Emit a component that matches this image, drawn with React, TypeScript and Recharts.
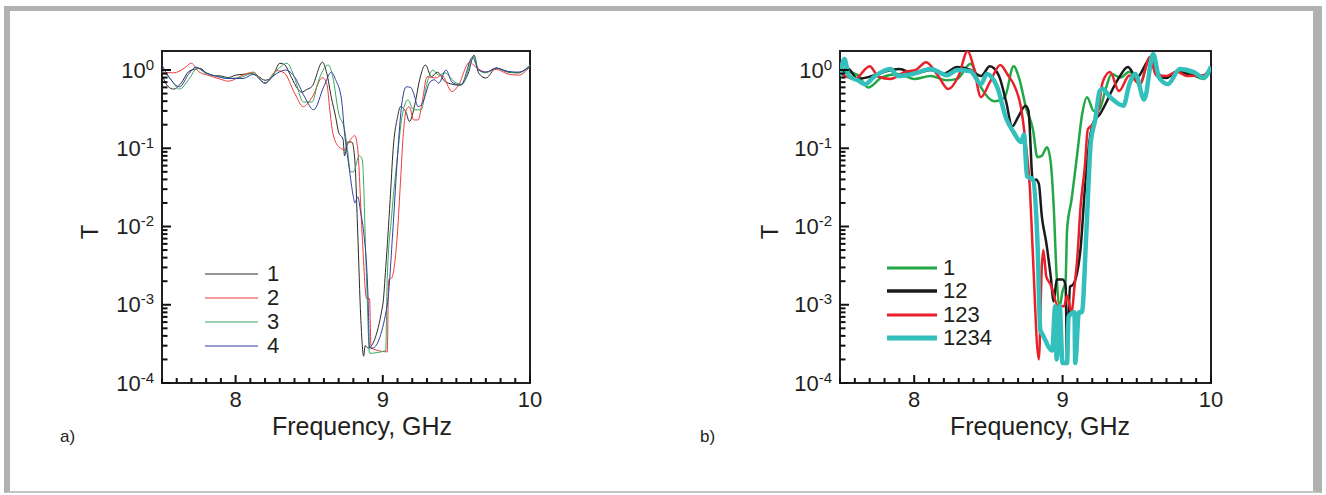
import React from 'react';
import { LineChart, Line, XAxis, YAxis, ReferenceArea, ReferenceDot } from 'recharts';

// ---- panel a) data (T vs frequency, GHz) ----
const fA1 = [7.5, 7.54, 7.58, 7.63, 7.68, 7.72, 7.76, 7.8, 7.85, 7.9, 7.95, 8.0, 8.05, 8.1, 8.15, 8.2, 8.25, 8.3, 8.33, 8.38, 8.42, 8.45, 8.48, 8.52, 8.59, 8.62, 8.65, 8.68, 8.7, 8.73, 8.74, 8.76, 8.79, 8.81, 8.83, 8.85, 8.87, 8.88, 8.9, 9.0, 9.02, 9.05, 9.07, 9.1, 9.12, 9.16, 9.18, 9.22, 9.25, 9.29, 9.33, 9.37, 9.42, 9.47, 9.52, 9.58, 9.62, 9.65, 9.7, 9.77, 9.85, 9.92, 10.0];
const tA1 = [0.86, 0.62, 0.57, 0.68, 0.95, 1.02, 1.05, 0.92, 0.85, 0.84, 0.8, 0.86, 0.88, 0.9, 0.84, 0.74, 0.82, 1.22, 1.18, 0.8, 0.58, 0.52, 0.56, 0.62, 1.26, 0.9, 0.45, 0.25, 0.16, 0.13, 0.08, 0.12, 0.12, 0.07, 0.008, 0.0007, 0.00022, 0.0003, 0.00028, 0.001, 0.003, 0.022, 0.096, 0.25, 0.34, 0.28, 0.22, 0.38, 0.75, 1.16, 0.82, 0.94, 0.72, 0.66, 0.64, 0.9, 1.55, 0.92, 0.79, 1.06, 0.94, 0.92, 1.16];

const fA2 = [7.5, 7.58, 7.65, 7.7, 7.75, 7.82, 7.9, 7.95, 8.05, 8.12, 8.2, 8.28, 8.33, 8.4, 8.46, 8.52, 8.59, 8.62, 8.64, 8.66, 8.7, 8.74, 8.77, 8.81, 8.83, 8.86, 8.89, 8.91, 8.92, 9.03, 9.04, 9.06, 9.1, 9.12, 9.14, 9.16, 9.18, 9.21, 9.24, 9.27, 9.3, 9.36, 9.4, 9.47, 9.51, 9.59, 9.63, 9.7, 9.77, 9.85, 9.92, 10.0];
const tA2 = [0.94, 0.92, 1.05, 1.22, 0.95, 0.85, 0.76, 0.72, 0.86, 0.94, 0.68, 0.98, 0.92, 0.51, 0.34, 0.45, 0.8, 0.66, 0.31, 0.158, 0.105, 0.096, 0.12, 0.145, 0.096, 0.0076, 0.0012, 0.0012, 0.00028, 0.00025, 0.0021, 0.0022, 0.0085, 0.037, 0.158, 0.31, 0.34, 0.23, 0.23, 0.415, 0.82, 0.79, 0.86, 0.53, 0.62, 1.26, 1.1, 0.94, 1.02, 0.89, 0.86, 1.1];

const fA3 = [7.5, 7.55, 7.62, 7.68, 7.74, 7.8, 7.87, 7.95, 8.03, 8.12, 8.2, 8.27, 8.35, 8.4, 8.46, 8.52, 8.56, 8.63, 8.66, 8.7, 8.74, 8.76, 8.78, 8.8, 8.84, 8.86, 8.89, 8.91, 9.02, 9.03, 9.06, 9.1, 9.13, 9.17, 9.21, 9.26, 9.3, 9.34, 9.38, 9.42, 9.5, 9.54, 9.62, 9.65, 9.7, 9.77, 9.85, 9.92, 10.0];
const tA3 = [0.98, 0.8, 0.57, 0.75, 1.05, 0.9, 0.84, 0.78, 0.8, 0.92, 0.68, 0.95, 1.22, 0.8, 0.39, 0.39, 0.7, 1.16, 0.82, 0.28, 0.173, 0.096, 0.05, 0.05, 0.08, 0.072, 0.002, 0.00024, 0.00026, 0.0021, 0.0136, 0.08, 0.25, 0.415, 0.31, 0.31, 0.68, 1.0, 0.86, 0.92, 0.68, 0.66, 1.5, 1.0, 0.92, 1.06, 0.95, 0.92, 1.16];

const fA4 = [7.5, 7.55, 7.62, 7.68, 7.73, 7.8, 7.88, 7.95, 8.05, 8.12, 8.2, 8.26, 8.34, 8.4, 8.47, 8.53, 8.6, 8.65, 8.68, 8.72, 8.74, 8.77, 8.8, 8.81, 8.83, 8.85, 8.87, 8.9, 8.91, 8.93, 9.03, 9.07, 9.1, 9.13, 9.16, 9.19, 9.21, 9.24, 9.27, 9.32, 9.35, 9.38, 9.43, 9.47, 9.53, 9.61, 9.65, 9.7, 9.77, 9.85, 9.92, 10.0];
const tA4 = [1.16, 0.8, 0.61, 0.88, 1.09, 0.92, 0.82, 0.78, 0.78, 0.88, 0.68, 0.85, 1.0, 0.82, 0.45, 0.31, 0.62, 0.94, 0.75, 0.415, 0.158, 0.059, 0.024, 0.02, 0.024, 0.015, 0.0085, 0.0012, 0.00028, 0.00028, 0.00099, 0.01, 0.08, 0.38, 0.61, 0.6, 0.5, 0.34, 0.38, 0.7, 0.75, 0.68, 1.0, 0.7, 0.64, 1.46, 1.0, 0.94, 1.06, 0.96, 0.94, 1.1];

// ---- panel b) data ----
const fB1 = [7.5, 7.55, 7.62, 7.69, 7.78, 7.89, 8.0, 8.11, 8.22, 8.29, 8.38, 8.45, 8.54, 8.61, 8.67, 8.71, 8.755, 8.8, 8.83, 8.86, 8.895, 8.92, 8.94, 8.96, 8.98, 9.0, 9.02, 9.03, 9.06, 9.1, 9.13, 9.165, 9.21, 9.25, 9.29, 9.33, 9.39, 9.45, 9.52, 9.59, 9.63, 9.7, 9.77, 9.86, 9.95, 10.0];
const tB1 = [0.89, 0.95, 0.86, 0.6, 0.8, 0.89, 0.77, 0.84, 0.74, 0.77, 1.2, 0.6, 0.4, 0.45, 1.12, 0.75, 0.32, 0.175, 0.077, 0.08, 0.103, 0.066, 0.018, 0.0023, 0.00096, 0.0015, 0.002, 0.009, 0.022, 0.089, 0.26, 0.45, 0.3, 0.32, 0.57, 0.89, 0.8, 0.95, 0.66, 1.47, 0.96, 0.8, 0.96, 0.9, 0.77, 1.1];

const fB2 = [7.5, 7.55, 7.62, 7.7, 7.8, 7.9, 8.0, 8.11, 8.2, 8.29, 8.38, 8.45, 8.51, 8.57, 8.62, 8.66, 8.7, 8.75, 8.77, 8.8, 8.82, 8.84, 8.86, 8.89, 8.92, 8.94, 8.96, 9.0, 9.02, 9.03, 9.05, 9.07, 9.12, 9.15, 9.18, 9.21, 9.25, 9.29, 9.32, 9.38, 9.44, 9.5, 9.59, 9.63, 9.7, 9.77, 9.86, 9.95, 10.0];
const tB2 = [0.89, 1.05, 0.77, 0.82, 0.95, 1.03, 0.9, 1.0, 0.9, 1.09, 1.0, 0.84, 1.12, 0.85, 0.39, 0.19, 0.25, 0.35, 0.3, 0.037, 0.04, 0.035, 0.0135, 0.0062, 0.0023, 0.0011, 0.0021, 0.0021, 0.0018, 0.0002, 0.0017, 0.0018, 0.005, 0.03, 0.12, 0.22, 0.27, 0.37, 0.49, 0.8, 1.09, 0.8, 1.38, 0.9, 0.79, 0.96, 0.86, 0.82, 1.1];

const fB3 = [7.5, 7.6, 7.7, 7.76, 7.84, 7.94, 8.01, 8.08, 8.16, 8.23, 8.3, 8.36, 8.4, 8.45, 8.51, 8.58, 8.63, 8.68, 8.72, 8.75, 8.78, 8.8, 8.84, 8.86, 8.87, 8.89, 8.92, 8.97, 9.01, 9.03, 9.06, 9.08, 9.1, 9.12, 9.15, 9.17, 9.2, 9.24, 9.27, 9.32, 9.38, 9.45, 9.52, 9.59, 9.63, 9.7, 9.77, 9.84, 9.95, 10.0];
const tB3 = [0.89, 0.77, 1.12, 0.82, 0.77, 0.95, 1.0, 1.26, 0.85, 0.57, 0.85, 1.75, 1.1, 0.45, 0.7, 1.16, 0.87, 0.6, 0.33, 0.12, 0.03, 0.0042, 0.0002, 0.0031, 0.005, 0.0023, 0.0018, 0.00096, 0.00096, 0.0013, 0.0008, 0.0017, 0.0042, 0.017, 0.059, 0.175, 0.2, 0.3, 0.7, 0.94, 0.54, 0.85, 0.66, 1.47, 0.85, 0.84, 0.95, 0.84, 0.86, 1.1];

const fB4 = [7.5, 7.53, 7.56, 7.62, 7.67, 7.73, 7.84, 7.89, 8.0, 8.11, 8.22, 8.29, 8.38, 8.45, 8.49, 8.56, 8.62, 8.67, 8.72, 8.74, 8.76, 8.8, 8.83, 8.85, 8.87, 8.93, 8.95, 8.96, 8.98, 9.0, 9.03, 9.04, 9.08, 9.085, 9.11, 9.13, 9.16, 9.19, 9.22, 9.25, 9.27, 9.32, 9.41, 9.45, 9.49, 9.55, 9.61, 9.65, 9.71, 9.79, 9.88, 9.95, 10.0];
const tB4 = [0.84, 1.38, 0.84, 0.74, 0.66, 0.82, 1.03, 0.84, 0.9, 1.03, 0.86, 1.0, 0.96, 0.66, 0.89, 0.6, 0.24, 0.16, 0.12, 0.15, 0.044, 0.04, 0.0068, 0.00048, 0.0004, 0.00026, 0.00096, 0.0002, 0.00096, 0.00018, 0.00018, 0.0007, 0.0008, 0.00018, 0.0008, 0.0008, 0.0084, 0.12, 0.23, 0.54, 0.57, 0.45, 0.35, 0.66, 0.89, 0.42, 1.6, 0.8, 0.66, 1.03, 0.95, 0.8, 1.1];

const namesA = ['1', '2', '3', '4'];
const namesB = ['1', '12', '123', '1234'];
const yMajorTicks = [1e-4, 1e-3, 1e-2, 1e-1, 1];
const xMajorTicks = [8, 9, 10];

const zip = (f: number[], t: number[]) => f.map((v, i) => ({ f: v, t: t[i] }));

const FONT = '"Liberation Sans", Arial, Helvetica, sans-serif';
const INK = '#231f20';
const X_DOMAIN: [number, number] = [7.5, 10];
const Y_DOMAIN: [number, number] = [1e-4, 1.75];

// minor log ticks 2..9 in each decade
const yTicks: number[] = [];
yMajorTicks.forEach((d) => {
  yTicks.push(d);
  if (d < 1) for (let k = 2; k <= 9; k++) yTicks.push(Number((d * k).toPrecision(3)));
});
const xTicks: number[] = [];
for (let i = 0; i <= 25; i++) xTicks.push(Math.round((7.5 + i * 0.1) * 10) / 10);

const isYMajor = (v: number) => yMajorTicks.includes(v);
const isXMajor = (v: number) => xMajorTicks.includes(v);

// tick labels only
const makeYTick = (axisX: number) => (props: any) => {
  const v = props.payload.value;
  if (!isYMajor(v)) return <g />;
  const exp = Math.round(Math.log10(v));
  const y = props.payload.coordinate ?? props.y;
  return (
    <text x={axisX - 8} y={y + 7.5} textAnchor="end" fontSize={22} fill={INK} fontFamily={FONT}>
      10<tspan dy={-8} fontSize={15}>{String(exp)}</tspan>
    </text>
  );
};

const makeXTick = (axisY: number) => (props: any) => {
  const v = props.payload.value;
  if (!isXMajor(v)) return <g />;
  const x = props.payload.coordinate ?? props.x;
  return (
    <text x={x} y={axisY + 24} textAnchor="middle" fontSize={22} fill={INK} fontFamily={FONT}>
      {v}
    </text>
  );
};

// inward tick marks, drawn at the scaled tick positions
const yMajorMark = (p: any) => <rect x={p.cx} y={p.cy - 1} width={9} height={2} fill="#111" />;
const yMinorMark = (p: any) => <rect x={p.cx} y={p.cy - 1} width={5.5} height={2} fill="#111" />;
const xMajorMark = (p: any) => <rect x={p.cx - 1} y={p.cy - 8} width={2} height={8} fill="#111" />;
const xMinorMark = (p: any) => <rect x={p.cx - 1} y={p.cy - 5} width={2} height={5} fill="#111" />;

interface Series { name: string; color: string; width: number; data: { f: number; t: number }[] }

const seriesA: Series[] = [
  { name: namesA[0], color: '#2a2a2a', width: 1, data: zip(fA1, tA1) },
  { name: namesA[1], color: '#f03a3a', width: 1, data: zip(fA2, tA2) },
  { name: namesA[2], color: '#3aa85a', width: 1, data: zip(fA3, tA3) },
  { name: namesA[3], color: '#2f3f9f', width: 1, data: zip(fA4, tA4) },
];
const seriesB: Series[] = [
  { name: namesB[0], color: '#22a846', width: 2.5, data: zip(fB1, tB1) },
  { name: namesB[1], color: '#1a1a1a', width: 2.5, data: zip(fB2, tB2) },
  { name: namesB[2], color: '#e8202a', width: 2.5, data: zip(fB3, tB3) },
  { name: namesB[3], color: '#33bfbb', width: 4.5, data: zip(fB4, tB4) },
];

function Panel({ left, plotL, plotR, series, legend, tag, tagX, yLabelX, xLabelX }: {
  left: number; plotL: number; plotR: number; series: Series[];
  legend: { x: number; len: number; gap: number; y0: number; dy: number; widths: number[] };
  tag: string; tagX: number; yLabelX: number; xLabelX: number;
}) {
  const W = 640;
  const plotT = 51;
  const plotB = 383;
  return (
    <div style={{ position: 'absolute', left, top: 0, width: W, height: 495 }}>
      <LineChart width={W} height={495} margin={{ top: plotT, left: plotL - left - 1, right: W - (plotR - left), bottom: 495 - plotB - 1 }}>
        <XAxis dataKey="f" type="number" domain={X_DOMAIN} allowDataOverflow ticks={xTicks} interval={0}
          height={1} axisLine={false} tickLine={false} tick={makeXTick(plotB)} />
        <YAxis type="number" scale="log" domain={Y_DOMAIN} allowDataOverflow ticks={yTicks} interval={0}
          width={1} axisLine={false} tickLine={false} tick={makeYTick(plotL - left)} />
        <ReferenceArea x1={X_DOMAIN[0]} x2={X_DOMAIN[1]} y1={Y_DOMAIN[0]} y2={Y_DOMAIN[1]} fill="none" stroke={INK} strokeWidth={2} />
        {series.map((s) => (
          <Line key={s.name} data={s.data} dataKey="t" type="monotone" stroke={s.color} strokeWidth={s.width}
            dot={false} activeDot={false} isAnimationActive={false} />
        ))}
        {xTicks.map((v) => (
          <ReferenceDot key={`x${v}`} x={v} y={Y_DOMAIN[0]} r={2} ifOverflow="visible"
            shape={isXMajor(v) ? xMajorMark : xMinorMark} />
        ))}
        {yTicks.map((v) => (
          <ReferenceDot key={`y${v}`} x={X_DOMAIN[0]} y={v} r={2} ifOverflow="visible"
            shape={isYMajor(v) ? yMajorMark : yMinorMark} />
        ))}
      </LineChart>
      <div style={{ position: 'absolute', left: yLabelX - left - 10, top: 220, width: 20, textAlign: 'center',
        fontFamily: FONT, fontSize: 24, color: INK, transform: 'rotate(-90deg)', lineHeight: '24px' }}>T</div>
      <div style={{ position: 'absolute', left: xLabelX - left - 150, top: 411, width: 300, textAlign: 'center',
        fontFamily: FONT, fontSize: 25, color: INK, lineHeight: '30px' }}>Frequency, GHz</div>
      <div style={{ position: 'absolute', left: tagX - left, top: 427, fontFamily: FONT, fontSize: 17, color: INK,
        lineHeight: '20px' }}>{tag}</div>
      {series.map((s, i) => (
        <div key={s.name} style={{ position: 'absolute', left: legend.x - left, top: legend.y0 + i * legend.dy - 12,
          height: 24, display: 'flex', alignItems: 'center', fontFamily: FONT, fontSize: 22, color: INK }}>
          <svg width={legend.len} height={24}><line x1={0} x2={legend.len} y1={12} y2={12} stroke={s.color} strokeWidth={legend.widths[i]} /></svg>
          <span style={{ marginLeft: legend.gap, lineHeight: '24px' }}>{s.name}</span>
        </div>
      ))}
    </div>
  );
}

export default function App() {
  return (
    <div style={{ position: 'absolute', left: 0, top: 0, width: 1326, height: 495, background: '#fff', overflow: 'hidden' }}>
      <div style={{ position: 'absolute', left: 4, top: 6, width: 1318, height: 487, boxSizing: 'border-box',
        borderLeft: '6px solid #b1b1b1', borderTop: '5px solid #b1b1b1', borderRight: '9px solid #b1b1b1',
        borderBottom: '2px solid #c4c4c4' }} />
      <Panel left={0} plotL={162} plotR={530} series={seriesA}
        legend={{ x: 205, len: 53, gap: 9, y0: 274, dy: 24, widths: [1.2, 1.2, 1.2, 1.2] }}
        tag="a)" tagX={60} yLabelX={90} xLabelX={362} />
      <Panel left={660} plotL={840} plotR={1211} series={seriesB}
        legend={{ x: 887, len: 50, gap: 6, y0: 268, dy: 23.3, widths: [3, 3.5, 3, 5] }}
        tag="b)" tagX={700} yLabelX={770} xLabelX={1040} />
    </div>
  );
}
